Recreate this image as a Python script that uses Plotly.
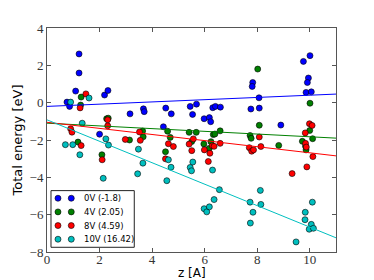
import plotly.graph_objects as go

# ---- data ----
blue_x = [0.76, 0.86, 1.09, 1.22, 1.22, 2.19, 2.32, 2.0, 3.16, 3.67, 3.7, 4.43, 4.52, 4.73, 5.45, 5.69, 5.54,
          5.98, 6.18, 6.23, 6.31, 6.41, 6.6, 7.76, 8.08, 8.07, 7.83, 7.81, 8.9, 9.76, 10.01, 9.95, 9.91, 9.86, 10.06]
blue_y = [0.03, -0.2, 0.62, 2.61, 1.59, 0.41, 0.65, -1.69, -0.6, -0.33, -0.48, -1.29, -0.29, -0.6, -0.2, -0.08, -0.63,
          -0.86, -0.8, -1.02, -0.27, -0.2, -0.24, -0.34, -0.29, 0.26, 1.08, 0.87, -1.2, 2.21, 2.52, 1.32, 1.08, 0.55, 0.58]

green_x = [1.3, 1.28, 2.27, 2.33, 1.18, 2.09, 3.14, 3.64, 3.66, 4.59, 4.69, 4.51, 5.41, 5.68, 5.51, 6.33, 6.39, 6.59,
           5.97, 6.24, 6.17, 7.73, 7.77, 8.08, 8.02, 8.82, 9.72, 9.84, 9.86, 10.11, 10.0, 10.01]
green_y = [0.3, -0.13, -0.86, -0.83, -2.11, -2.79, -2.0, -1.52, -1.83, -1.53, -1.86, -2.63, -1.59, -1.59, -2.08, -1.71,
           -1.68, -1.51, -2.21, -2.09, -2.45, -1.76, -1.91, -1.21, 1.8, -2.29, -2.07, -2.33, -2.53, -1.93, -1.49, -0.03]

red_x = [1.48, 1.26, 0.9, 0.95, 1.3, 2.31, 2.31, 2.1, 2.98, 3.55, 3.52, 4.51, 4.62, 4.81, 5.41, 5.51, 5.57, 5.99, 6.14,
         6.2, 6.29, 6.36, 6.59, 7.7, 7.79, 7.86, 8.08, 8.14, 9.33, 9.83, 9.84, 9.87, 9.89, 10.12, 9.99, 10.09]
red_y = [0.47, -0.28, -1.4, -1.58, -2.3, -0.92, -1.24, -3.06, -1.97, -2.02, -1.57, -3.01, -2.2, -2.35, -2.22, -2.57,
         -1.94, -2.53, -3.15, -2.71, -2.31, -2.34, -2.18, -2.41, -2.6, -2.53, -1.84, -2.35, -3.8, -1.62, -2.18, -2.38,
         -3.44, -2.89, -1.13, -1.22]

cyan_x = [0.9, 1.6, 1.34, 0.7, 0.98, 1.25, 2.24, 2.34, 2.14, 3.48, 3.65, 3.45, 4.56, 4.62, 4.72, 5.45, 5.5, 5.55, 6.3,
          6.56, 6.36, 5.98, 6.08, 6.18, 7.73, 7.84, 7.74, 8.12, 8.14, 9.48, 9.82, 9.83, 10.06, 9.98, 10.14, 10.1]
cyan_y = [0.03, 0.25, -1.1, -2.25, -2.25, -2.79, -1.94, -2.27, -4.05, -2.49, -3.24, -3.81, -4.18, -3.06, -3.46, -3.47,
          -3.65, -3.18, -3.61, -4.66, -5.19, -5.68, -5.85, -5.58, -5.33, -5.87, -6.45, -4.7, -5.45, -7.46, -6.27, -5.87,
          -6.52, -6.78, -6.73, -5.33]

fit_x = [0, 11]
blue_fit = [-0.2, 0.46]
green_fit = [-1.1, -1.9]
red_fit = [-1.05, -2.85]
cyan_fit = [-0.92, -7.24]

labels = ["0V (-1.8)", "4V (2.05)", "8V (4.59)", "10V (16.42)"]
colors = ["#0000ff", "#008000", "#ff0000", "#00bfbf"]

x_ticks = [0, 2, 4, 6, 8, 10]
y_ticks = [-8, -6, -4, -2, 0, 2, 4]

series = [(blue_x, blue_y, blue_fit), (green_x, green_y, green_fit),
          (red_x, red_y, red_fit), (cyan_x, cyan_y, cyan_fit)]

fig = go.Figure()
for (xs, ys, fit), lab, col in zip(series, labels, colors):
    fig.add_trace(go.Scatter(
        x=xs, y=ys, mode="markers", name=lab, showlegend=False,
        marker=dict(color=col, size=6, line=dict(color="#000000", width=0.6)),
    ))
for (xs, ys, fit), col in zip(series, colors):
    fig.add_trace(go.Scatter(
        x=fit_x, y=fit, mode="lines", showlegend=False,
        line=dict(color=col, width=1),
    ))

axis_common = dict(
    showgrid=False, zeroline=False, showline=True, linecolor="#555555", linewidth=1,
    mirror="ticks", ticks="inside", ticklen=4, tickcolor="#555555", automargin=False,
    tickfont=dict(family="Liberation Serif", size=13, color="#333333"),
)
fig.update_xaxes(range=[0, 11], tickvals=x_ticks, ticklabelstandoff=-5, **axis_common)
fig.update_yaxes(range=[-8, 4], tickvals=y_ticks,
                 title=dict(text="Total energy [eV]", font=dict(family="DejaVu Sans", size=13, color="#000000"), standoff=4),
                 **axis_common)

# x-axis title (placed as annotation to mimic the tight matplotlib layout)
fig.add_annotation(text="z [A]", xref="paper", yref="paper", x=0.5, y=-0.094,
                   xanchor="center", yanchor="middle", showarrow=False,
                   font=dict(family="DejaVu Sans", size=12, color="#000000"))

# ---- matplotlib-style legend (two symbols per entry) ----
leg_x0, leg_x1, leg_y0, leg_y1 = 0.0138, 0.302, 0.021, 0.274
fig.add_shape(type="rect", xref="paper", yref="paper", x0=leg_x0, x1=leg_x1, y0=leg_y0, y1=leg_y1,
              line=dict(color="#222222", width=1), fillcolor="white", layer="above")
row_y = [0.240, 0.179, 0.118, 0.057]
sym_x = [0.038, 0.084]
for lab, col, ry in zip(labels, colors, row_y):
    for sx in sym_x:
        fig.add_shape(type="circle", xref="paper", yref="paper", xsizemode="pixel", ysizemode="pixel",
                      xanchor=sx, yanchor=ry, x0=-3, x1=3, y0=-3, y1=3,
                      fillcolor=col, line=dict(color="#000000", width=0.6), layer="above")
    fig.add_annotation(text=lab, xref="paper", yref="paper", x=0.121, y=ry,
                       xanchor="left", yanchor="middle", showarrow=False,
                       font=dict(family="DejaVu Sans", size=8.5, color="#000000"))

fig.update_layout(
    width=366, height=272,
    margin=dict(l=39, r=38, t=20, b=28),
    paper_bgcolor="white", plot_bgcolor="white",
    showlegend=False,
)

fig.write_html("out.html")
